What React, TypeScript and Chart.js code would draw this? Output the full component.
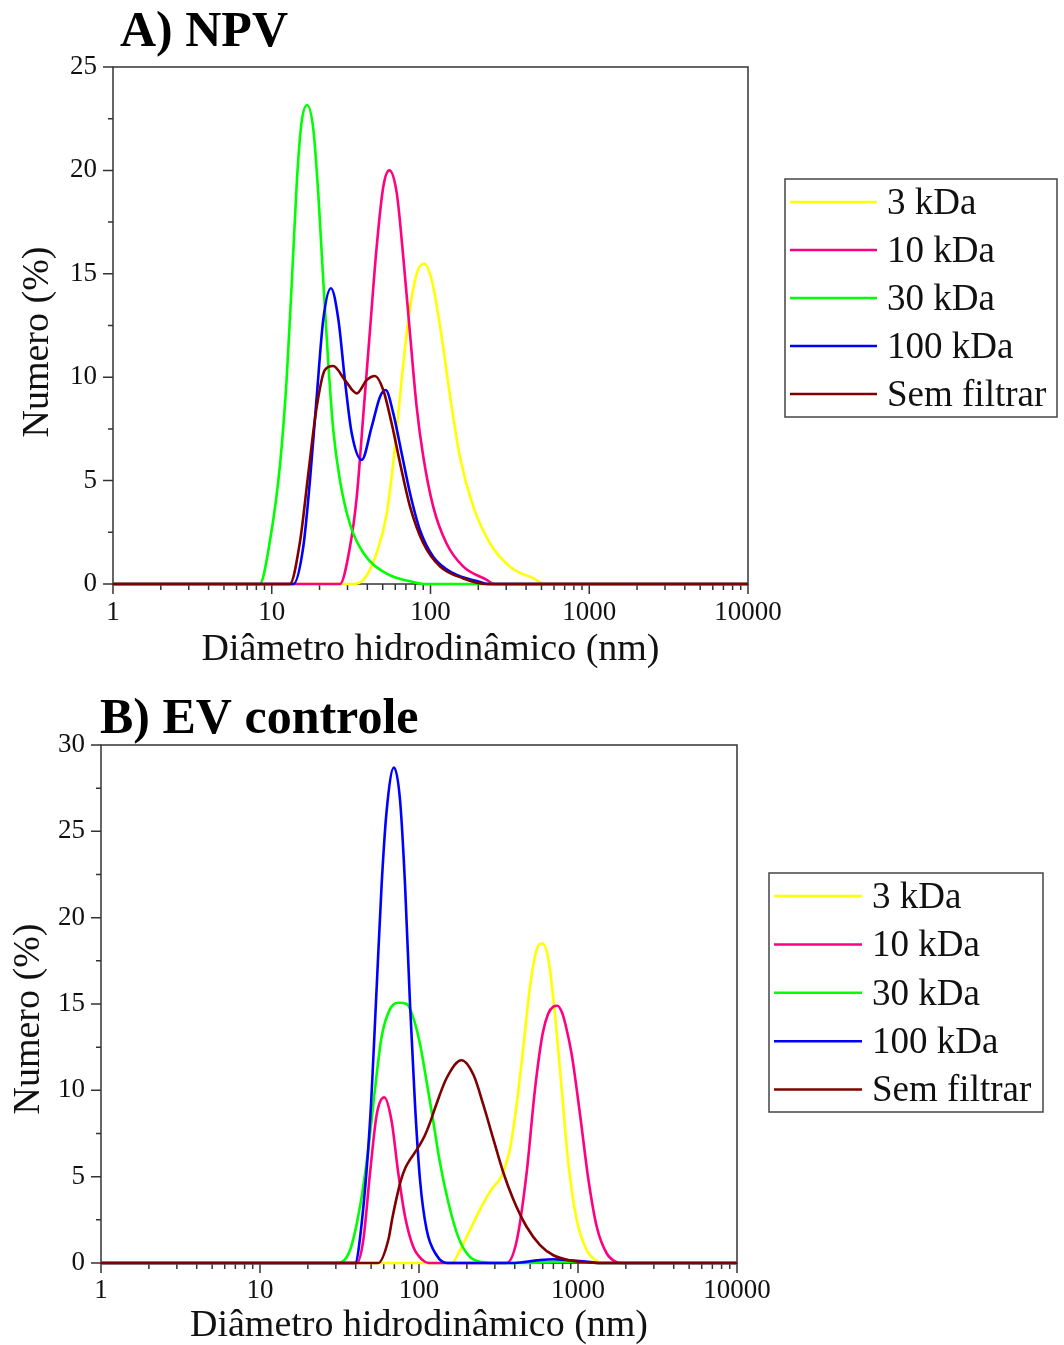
import React, { useEffect, useRef } from "react";
import { Chart, registerables } from "chart.js";

Chart.register(...registerables);

// ---------- Data ----------
const SERIES_LABELS = ["3 kDa", "10 kDa", "30 kDa", "100 kDa", "Sem filtrar"];
const SERIES_COLORS = ["#FFFF00", "#FF0080", "#00FF00", "#0000FF", "#800000"];
const DRAW_ORDER = [4, 3, 2, 1, 0];

const X_TITLE = "Diâmetro hidrodinâmico (nm)";
const Y_TITLE = "Numero (%)";

// Panel A) NPV  (x = hydrodynamic diameter in nm, y = number %)
const npv3kDaX = [1, 32, 37.8, 45.8, 53, 59.7, 65.8, 72.5, 81.8, 91, 101.8, 115, 133, 153, 186, 237, 317, 445, 525, 10000];
const npv3kDaY = [0, 0, 0.2, 1.5, 3.4, 6.6, 9.86, 12.77, 15.0, 15.5, 14.7, 12.44, 9.06, 6.16, 3.74, 1.97, 0.84, 0.27, 0, 0];

const npv10kDaX = [1, 26.9, 31.1, 34.3, 37.8, 41.6, 45.8, 50.4, 55, 61.3, 67.4, 74.3, 81.8, 90.1, 104, 126, 161, 226, 250, 10000];
const npv10kDaY = [0, 0, 1.8, 4.2, 8.25, 12.3, 16.3, 19.2, 20.0, 18.9, 15.8, 12.1, 8.57, 6.15, 3.74, 1.97, 0.84, 0.2, 0, 0];

const npv30kDaX = [1, 8.4, 9.75, 11.3, 12.4, 13.4, 14.4, 15.4, 16.7, 18.3, 19.7, 21.1, 22.7, 24.4, 26.9, 31.1, 37.8, 53, 77.6, 90, 10000];
const npv30kDaY = [0, 0, 2.1, 5.85, 9.86, 14.7, 19.5, 22.3, 23.16, 21.95, 18.7, 14.7, 10.7, 7.45, 5.0, 2.9, 1.5, 0.5, 0.1, 0, 0];

const npv100kDaX = [1, 13.7, 15.8, 17.4, 19.2, 21.1, 23.6, 26.3, 28.9, 31.9, 36.9, 42.6, 48.1, 52.2, 58.3, 65.9, 74.3, 85.9, 104, 139, 205, 230, 10000];
const npv100kDaY = [0, 0, 1.8, 5.0, 9.06, 12.77, 14.3, 12.77, 9.86, 7.29, 6.0, 7.6, 9.06, 9.38, 8.25, 6.3, 4.39, 2.6, 1.32, 0.52, 0.1, 0, 0];

const npvSemFiltrarX = [1, 13.0, 15.1, 17.0, 19.2, 21.6, 24.4, 28.9, 34.3, 39.6, 44.7, 50.4, 56.9, 64.3, 74.3, 90.1, 115, 161, 226, 10000];
const npvSemFiltrarY = [0, 0, 2.1, 5.35, 8.57, 10.35, 10.54, 9.86, 9.22, 9.86, 10.06, 9.38, 7.77, 5.84, 3.74, 1.97, 0.84, 0.27, 0, 0];

// Panel B) EV controle
const ev3kDaX = [1, 161, 181, 209, 248, 286, 331, 373, 411, 453, 499, 550, 597, 651, 716, 789, 869, 981, 1135, 1312, 1400, 10000];
const ev3kDaY = [0, 0, 0.74, 1.9, 3.3, 4.27, 5.05, 6.6, 9.16, 12.5, 16.0, 18.16, 18.5, 17.6, 14.4, 10.1, 5.8, 2.5, 0.74, 0.1, 0, 0];

const ev10kDaX = [1, 40.6, 44.6, 49.2, 54.2, 60.5, 67.3, 74.1, 81.7, 92, 106, 115, 356, 412, 475, 537, 600, 650, 700, 741, 790, 835, 912, 1030, 1162, 1312, 1517, 1750, 1900, 10000];
const ev10kDaY = [0, 0, 1.3, 5.2, 8.6, 9.59, 8.2, 5.2, 2.7, 0.94, 0.15, 0, 0, 1.3, 5.2, 10.1, 13.3, 14.45, 14.85, 14.9, 14.55, 13.8, 12.1, 8.6, 4.85, 2.1, 0.55, 0.05, 0, 0];

const ev30kDaX = [1, 30.4, 36.8, 42.6, 48.0, 52.9, 58.2, 65.7, 74.1, 83.7, 92.1, 101.4, 111.7, 123, 135.5, 153, 176.6, 209, 252, 300, 500, 750, 1000, 1300, 10000];
const ev30kDaY = [0, 0, 0.74, 3.3, 6.6, 10.1, 13.1, 14.7, 15.07, 15.0, 14.2, 12.7, 10.5, 8.2, 5.8, 3.5, 1.5, 0.35, 0.05, 0, 0, 0.08, 0.08, 0, 0];

const ev100kDaX = [1, 39.6, 43.6, 49.2, 54.2, 58.2, 62.6, 69.6, 76, 81.7, 87.8, 94.4, 101.4, 111.7, 129, 150, 400, 550, 700, 900, 1200, 1400, 10000];
const ev100kDaY = [0, 0, 2.3, 8.2, 16.0, 21.9, 26.2, 28.7, 26.8, 21.9, 15.0, 9.16, 4.85, 1.92, 0.45, 0, 0, 0.15, 0.22, 0.15, 0.05, 0, 0];

const evSemFiltrarX = [1, 55.5, 64.1, 68, 72.4, 77, 82, 88, 95, 102, 109, 117, 126, 149, 185, 220, 254, 293, 339, 392, 475, 577, 700, 891, 1200, 1400, 10000];
const evSemFiltrarY = [0, 0, 1.33, 2.6, 3.8, 4.8, 5.5, 6.0, 6.45, 6.9, 7.4, 8.1, 8.96, 10.7, 11.74, 10.9, 9.16, 7.2, 5.24, 3.68, 2.1, 1.04, 0.45, 0.15, 0.03, 0, 0];

// ---------- Layout ----------
const FONT = "'Liberation Serif', 'Times New Roman', serif";

type PanelCfg = {
  title: string;
  titleX: number;
  titleBase: number;
  width: number;
  height: number;
  plot: { left: number; right: number; top: number; bottom: number };
  yMax: number;
  xs: number[][];
  ys: number[][];
  legend: { left: number; top: number; right: number; bottom: number; lx0: number; lx1: number; tx: number; y0: number; dy: number };
  yTitle: { x: number; y: number };
  xTitlePad: number;
  xTickPad: number;
};

const panelA: PanelCfg = {
  title: "A) NPV",
  titleX: 120,
  titleBase: 46,
  width: 1064,
  height: 672,
  plot: { left: 113, right: 748, top: 67, bottom: 584 },
  yMax: 25,
  xs: [npv3kDaX, npv10kDaX, npv30kDaX, npv100kDaX, npvSemFiltrarX],
  ys: [npv3kDaY, npv10kDaY, npv30kDaY, npv100kDaY, npvSemFiltrarY],
  legend: { left: 785, top: 179, right: 1057, bottom: 417, lx0: 790, lx1: 877, tx: 887, y0: 202, dy: 48 },
  yTitle: { x: 38, y: 342 },
  xTitlePad: 3,
  xTickPad: 15,
};

const panelB: PanelCfg = {
  title: "B) EV controle",
  titleX: 100,
  titleBase: 61,
  width: 1064,
  height: 673,
  plot: { left: 101, right: 737, top: 73, bottom: 591 },
  yMax: 30,
  xs: [ev3kDaX, ev10kDaX, ev30kDaX, ev100kDaX, evSemFiltrarX],
  ys: [ev3kDaY, ev10kDaY, ev30kDaY, ev100kDaY, evSemFiltrarY],
  legend: { left: 769, top: 201, right: 1043, bottom: 440, lx0: 774, lx1: 862, tx: 872, y0: 224, dy: 48.4 },
  yTitle: { x: 29, y: 347 },
  xTitlePad: 0,
  xTickPad: 14,
};

const isDecade = (v: number) => {
  const l = Math.log10(v);
  return Math.abs(l - Math.round(l)) < 1e-9;
};

function makeDecor(cfg: PanelCfg) {
  return {
    id: "decor",
    beforeDatasetsDraw(chart: any) {
      const ctx = chart.ctx as CanvasRenderingContext2D;
      const { left, right, top, bottom } = chart.chartArea;
      ctx.save();
      ctx.strokeStyle = "#333";
      ctx.lineWidth = 1.5;
      ctx.strokeRect(left, top, right - left, bottom - top);
      const xs = chart.scales.x;
      ctx.beginPath();
      for (let d = 0; d <= 4; d++) {
        for (let k = 1; k <= 9; k++) {
          if (d === 4 && k > 1) break;
          const px = xs.getPixelForValue(k * Math.pow(10, d));
          const len = k === 1 ? 10 : 6;
          ctx.moveTo(px, bottom);
          ctx.lineTo(px, bottom + len);
        }
      }
      const ys = chart.scales.y;
      for (let v = 0; v <= cfg.yMax + 1e-9; v += 2.5) {
        const py = ys.getPixelForValue(v);
        const major = Math.abs(v / 5 - Math.round(v / 5)) < 1e-6;
        const len = major ? 10 : 5;
        ctx.moveTo(left - len, py);
        ctx.lineTo(left, py);
      }
      ctx.stroke();
      ctx.restore();
    },
    afterDraw(chart: any) {
      const ctx = chart.ctx as CanvasRenderingContext2D;
      ctx.save();
      // panel title
      ctx.fillStyle = "#000";
      ctx.font = `bold 50px ${FONT}`;
      ctx.textAlign = "left";
      ctx.textBaseline = "alphabetic";
      ctx.fillText(cfg.title, cfg.titleX, cfg.titleBase);
      // y title
      ctx.save();
      ctx.translate(cfg.yTitle.x, cfg.yTitle.y);
      ctx.rotate(-Math.PI / 2);
      ctx.font = `38px ${FONT}`;
      ctx.textAlign = "center";
      ctx.textBaseline = "middle";
      ctx.fillStyle = "#111";
      ctx.fillText(Y_TITLE, 0, 0);
      ctx.restore();
      // legend
      const lg = cfg.legend;
      ctx.strokeStyle = "#444";
      ctx.lineWidth = 1.5;
      ctx.strokeRect(lg.left, lg.top, lg.right - lg.left, lg.bottom - lg.top);
      ctx.font = `37px ${FONT}`;
      ctx.textAlign = "left";
      ctx.textBaseline = "middle";
      SERIES_LABELS.forEach((label, i) => {
        const y = lg.y0 + i * lg.dy;
        ctx.strokeStyle = SERIES_COLORS[i];
        ctx.lineWidth = 2.5;
        ctx.beginPath();
        ctx.moveTo(lg.lx0, y);
        ctx.lineTo(lg.lx1, y);
        ctx.stroke();
        ctx.fillStyle = "#111";
        ctx.fillText(label, lg.tx, y + 2);
      });
      ctx.restore();
    },
  };
}

function Panel({ cfg }: { cfg: PanelCfg }) {
  const ref = useRef<HTMLCanvasElement>(null);
  useEffect(() => {
    const datasets = cfg.xs.map((xs, i) => ({
      label: SERIES_LABELS[i],
      data: xs.map((x, j) => ({ x, y: cfg.ys[i][j] })),
      borderColor: SERIES_COLORS[i],
      backgroundColor: SERIES_COLORS[i],
      borderWidth: 2.6,
      pointRadius: 0,
      showLine: true,
      fill: false,
      cubicInterpolationMode: "monotone" as const,
      order: DRAW_ORDER[i],
      clip: 4,
    }));
    const chart = new Chart(ref.current as HTMLCanvasElement, {
      type: "scatter",
      data: { datasets },
      options: {
        responsive: false,
        animation: false,
        devicePixelRatio: 1,
        layout: {
          padding: { left: 0, top: cfg.plot.top, right: cfg.width - cfg.plot.right, bottom: 0 },
        },
        plugins: { legend: { display: false }, tooltip: { enabled: false }, title: { display: false } },
        scales: {
          x: {
            type: "logarithmic",
            min: 1,
            max: 10000,
            grid: { display: false, drawTicks: false },
            border: { display: false },
            ticks: {
              autoSkip: false,
              maxRotation: 0,
              padding: cfg.xTickPad,
              color: "#111",
              font: { family: FONT, size: 27, lineHeight: 1 },
              callback: (v: any) => (isDecade(Number(v)) ? String(Number(v)) : ""),
            },
            title: {
              display: true,
              text: X_TITLE,
              color: "#111",
              font: { family: FONT, size: 38, lineHeight: 1 },
              padding: { top: 0, bottom: cfg.xTitlePad },
            },
            afterFit: (s: any) => {
              s.height = cfg.height - cfg.plot.bottom;
              s.paddingLeft = 0;
              s.paddingRight = 0;
            },
          },
          y: {
            type: "linear",
            min: 0,
            max: cfg.yMax,
            grid: { display: false, drawTicks: false },
            border: { display: false },
            ticks: {
              stepSize: 2.5,
              autoSkip: false,
              padding: 16,
              color: "#111",
              font: { family: FONT, size: 27, lineHeight: 1 },
              callback: (v: any) => {
                const n = Number(v);
                return Math.abs(n / 5 - Math.round(n / 5)) < 1e-6 ? String(Math.round(n)) : "";
              },
            },
            afterFit: (s: any) => {
              s.width = cfg.plot.left;
              s.paddingTop = 0;
              s.paddingBottom = 0;
            },
          },
        },
      },
      plugins: [makeDecor(cfg)],
    } as any);
    return () => chart.destroy();
  }, [cfg]);
  return (
    <canvas
      ref={ref}
      width={cfg.width}
      height={cfg.height}
      style={{ display: "block", width: cfg.width, height: cfg.height }}
    />
  );
}

export default function App() {
  return (
    <div style={{ position: "absolute", left: 0, top: 0, width: 1064, height: 1345, background: "#fff" }}>
      <Panel cfg={panelA} />
      <Panel cfg={panelB} />
    </div>
  );
}
